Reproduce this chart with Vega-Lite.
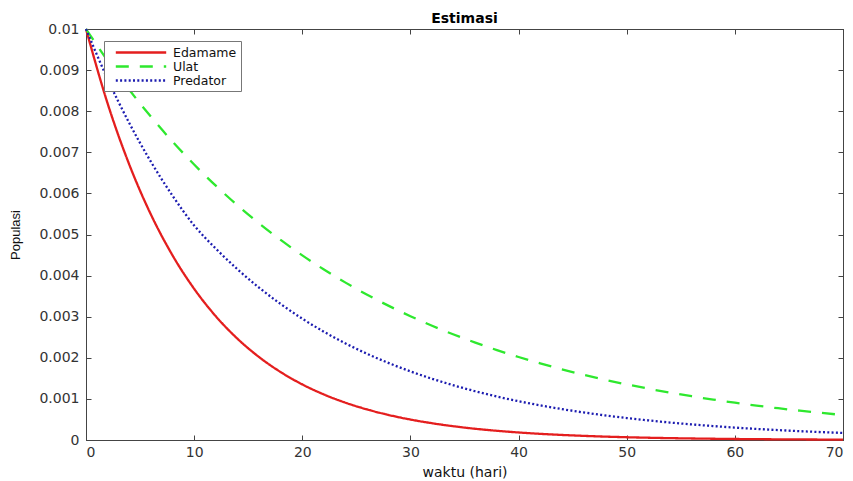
{
"$schema": "https://vega.github.io/schema/vega-lite/v6.json",
"width": 757, "height": 411,
"autosize": {"type": "none"},
"padding": {"left": 86, "top": 29, "right": 10, "bottom": 41},
"background": "white",
"title": {"text": "Estimasi", "fontSize": 14, "fontWeight": "bold", "font": "DejaVu Sans", "color": "#000", "offset": -4},
"config": {
 "view": {"stroke": "#444", "strokeWidth": 1},
 "axis": {"domainColor": "#444", "tickColor": "#444", "tickSize": -5, "labelFont": "DejaVu Sans", "labelFontSize": 14, "labelColor": "#333", "titleFont": "DejaVu Sans", "titleFontSize": 14, "titleFontWeight": "normal", "titleColor": "#111", "grid": false},
 "legend": {"labelFont": "DejaVu Sans", "labelFontSize": 13, "labelColor": "#111"}
},
"data": {"values": [
{"t":0,"series":"Edamame","value":0.01},{"t":2,"series":"Edamame","value":0.008187},{"t":4,"series":"Edamame","value":0.006703},{"t":6,"series":"Edamame","value":0.005488},{"t":8,"series":"Edamame","value":0.004493},{"t":10,"series":"Edamame","value":0.003679},{"t":12,"series":"Edamame","value":0.003012},{"t":14,"series":"Edamame","value":0.002466},{"t":16,"series":"Edamame","value":0.002019},{"t":18,"series":"Edamame","value":0.001653},{"t":20,"series":"Edamame","value":0.001353},{"t":22,"series":"Edamame","value":0.001108},{"t":24,"series":"Edamame","value":0.000907},{"t":26,"series":"Edamame","value":0.000743},{"t":28,"series":"Edamame","value":0.000608},{"t":30,"series":"Edamame","value":0.000498},{"t":32,"series":"Edamame","value":0.000408},{"t":34,"series":"Edamame","value":0.000334},{"t":36,"series":"Edamame","value":0.000273},{"t":38,"series":"Edamame","value":0.000224},{"t":40,"series":"Edamame","value":0.000183},{"t":42,"series":"Edamame","value":0.00015},{"t":44,"series":"Edamame","value":0.000123},{"t":46,"series":"Edamame","value":0.000101},{"t":48,"series":"Edamame","value":0.0000823},{"t":50,"series":"Edamame","value":0.0000674},{"t":52,"series":"Edamame","value":0.0000552},{"t":54,"series":"Edamame","value":0.0000452},{"t":56,"series":"Edamame","value":0.000037},{"t":58,"series":"Edamame","value":0.0000303},{"t":60,"series":"Edamame","value":0.0000248},{"t":62,"series":"Edamame","value":0.0000203},{"t":64,"series":"Edamame","value":0.0000166},{"t":66,"series":"Edamame","value":0.0000136},{"t":68,"series":"Edamame","value":0.0000111},{"t":70,"series":"Edamame","value":0.0000091},
{"t":0,"series":"Ulat","value":0.01},{"t":2,"series":"Ulat","value":0.009231},{"t":4,"series":"Ulat","value":0.008521},{"t":6,"series":"Ulat","value":0.007866},{"t":8,"series":"Ulat","value":0.007261},{"t":10,"series":"Ulat","value":0.006703},{"t":12,"series":"Ulat","value":0.006188},{"t":14,"series":"Ulat","value":0.005712},{"t":16,"series":"Ulat","value":0.005273},{"t":18,"series":"Ulat","value":0.004868},{"t":20,"series":"Ulat","value":0.004493},{"t":22,"series":"Ulat","value":0.004148},{"t":24,"series":"Ulat","value":0.003829},{"t":26,"series":"Ulat","value":0.003535},{"t":28,"series":"Ulat","value":0.003263},{"t":30,"series":"Ulat","value":0.003012},{"t":32,"series":"Ulat","value":0.00278},{"t":34,"series":"Ulat","value":0.002567},{"t":36,"series":"Ulat","value":0.002369},{"t":38,"series":"Ulat","value":0.002187},{"t":40,"series":"Ulat","value":0.002019},{"t":42,"series":"Ulat","value":0.001864},{"t":44,"series":"Ulat","value":0.00172},{"t":46,"series":"Ulat","value":0.001588},{"t":48,"series":"Ulat","value":0.001466},{"t":50,"series":"Ulat","value":0.001353},{"t":52,"series":"Ulat","value":0.001249},{"t":54,"series":"Ulat","value":0.001153},{"t":56,"series":"Ulat","value":0.001065},{"t":58,"series":"Ulat","value":0.000983},{"t":60,"series":"Ulat","value":0.000907},{"t":62,"series":"Ulat","value":0.000837},{"t":64,"series":"Ulat","value":0.000773},{"t":66,"series":"Ulat","value":0.000714},{"t":68,"series":"Ulat","value":0.000659},{"t":70,"series":"Ulat","value":0.000608},
{"t":0,"series":"Predator","value":0.01},{"t":2,"series":"Predator","value":0.008781},{"t":4,"series":"Predator","value":0.007711},{"t":6,"series":"Predator","value":0.006771},{"t":8,"series":"Predator","value":0.005945},{"t":10,"series":"Predator","value":0.00522},{"t":12,"series":"Predator","value":0.004658},{"t":14,"series":"Predator","value":0.004156},{"t":16,"series":"Predator","value":0.003708},{"t":18,"series":"Predator","value":0.003309},{"t":20,"series":"Predator","value":0.002952},{"t":22,"series":"Predator","value":0.002634},{"t":24,"series":"Predator","value":0.00235},{"t":26,"series":"Predator","value":0.002097},{"t":28,"series":"Predator","value":0.001871},{"t":30,"series":"Predator","value":0.00167},{"t":32,"series":"Predator","value":0.00149},{"t":34,"series":"Predator","value":0.001329},{"t":36,"series":"Predator","value":0.001186},{"t":38,"series":"Predator","value":0.001058},{"t":40,"series":"Predator","value":0.000944},{"t":42,"series":"Predator","value":0.000843},{"t":44,"series":"Predator","value":0.000752},{"t":46,"series":"Predator","value":0.000671},{"t":48,"series":"Predator","value":0.000599},{"t":50,"series":"Predator","value":0.000534},{"t":52,"series":"Predator","value":0.000477},{"t":54,"series":"Predator","value":0.000425},{"t":56,"series":"Predator","value":0.00038},{"t":58,"series":"Predator","value":0.000339},{"t":60,"series":"Predator","value":0.000302},{"t":62,"series":"Predator","value":0.00027},{"t":64,"series":"Predator","value":0.000241},{"t":66,"series":"Predator","value":0.000215},{"t":68,"series":"Predator","value":0.000192},{"t":70,"series":"Predator","value":0.000171}
]},
"layer": [
 {
  "mark": {"type": "line", "strokeWidth": 2.3, "interpolate": "monotone"},
  "encoding": {
   "x": {"field": "t", "type": "quantitative", "scale": {"domain": [0, 70], "nice": false},
         "axis": {"values": [0,10,20,30,40,50,60,70], "title": "waktu (hari)", "labelPadding": 10, "titlePadding": 6}},
   "y": {"field": "value", "type": "quantitative", "scale": {"domain": [0, 0.01], "nice": false},
         "axis": {"values": [0,0.001,0.002,0.003,0.004,0.005,0.006,0.007,0.008,0.009,0.01], "format": "~g", "title": "Populasi", "titleFont": "Liberation Sans", "titleFontSize": 13, "labelPadding": 12, "titlePadding": 16}},
   "color": {"field": "series", "type": "nominal",
     "scale": {"domain": ["Edamame", "Ulat", "Predator"], "range": ["#e41e1e", "#2ee82e", "#1c1cb0"]},
     "legend": {"title": null, "orient": "none", "legendX": 18, "legendY": 12, "fillColor": "white", "strokeColor": "#777", "padding": 4, "symbolType": "M-4.2,0H4.2", "symbolSize": 144, "symbolStrokeWidth": 2.3, "labelOffset": 24.5, "rowPadding": -7, "symbolOffset": 25.5, "labelFontSize": 12.5}},
   "strokeDash": {"field": "series", "type": "nominal",
     "scale": {"domain": ["Edamame", "Ulat", "Predator"], "range": [[1, 0], [13, 11], [2, 2.3]]},
     "legend": {"title": null, "orient": "none", "legendX": 18, "legendY": 12, "fillColor": "white", "strokeColor": "#777", "padding": 4, "symbolType": "M-4.2,0H4.2", "symbolSize": 144, "symbolStrokeWidth": 2.3, "labelOffset": 24.5, "rowPadding": -7, "symbolOffset": 25.5, "labelFontSize": 12.5}}
  }
 },
 {
  "mark": {"type": "line", "opacity": 0},
  "encoding": {
   "x": {"field": "t", "type": "quantitative", "scale": {"domain": [0, 70], "nice": false},
         "axis": {"orient": "top", "values": [0,10,20,30,40,50,60,70], "labels": false, "title": null}},
   "y": {"field": "value", "type": "quantitative", "scale": {"domain": [0, 0.01], "nice": false},
         "axis": {"orient": "right", "values": [0,0.001,0.002,0.003,0.004,0.005,0.006,0.007,0.008,0.009,0.01], "labels": false, "title": null}}
  }
 }
],
"resolve": {"axis": {"x": "independent", "y": "independent"}}
}
